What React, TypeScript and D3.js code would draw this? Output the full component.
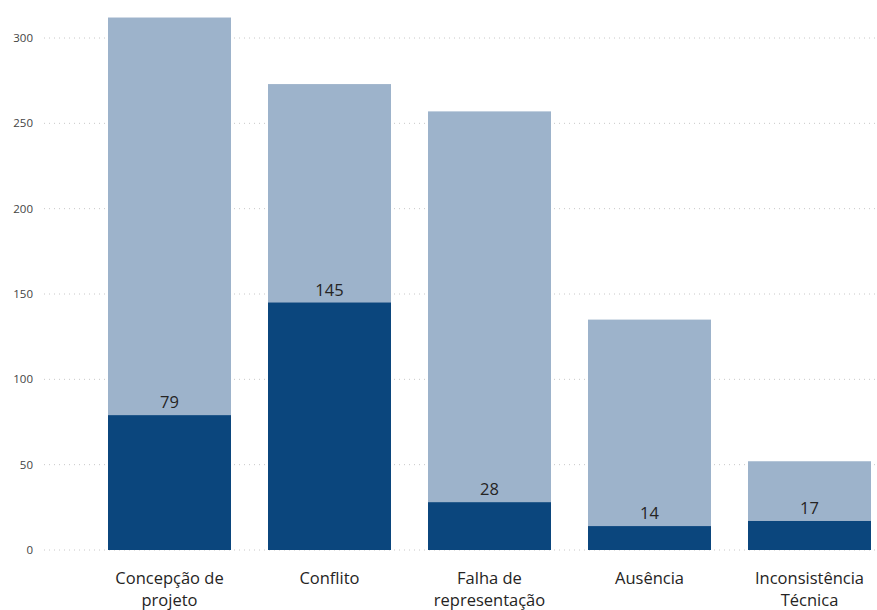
import React from "react";
import * as d3 from "d3";

const categories: string[][] = [
  ["Concepção de", "projeto"],
  ["Conflito"],
  ["Falha de", "representação"],
  ["Ausência"],
  ["Inconsistência", "Técnica"],
];
const totals = [312, 273, 257, 135, 52];
const highlighted = [79, 145, 28, 14, 17];
const yTicks = [0, 50, 100, 150, 200, 250, 300];

const W = 877;
const H = 610;

export default function App() {
  const keys = categories.map((c) => c.join(" "));
  const x = d3
    .scaleBand<string>()
    .domain(keys)
    .range([89.5, 889.5])
    .paddingInner(0.23125)
    .paddingOuter(0.115625);
  const y = d3.scaleLinear().domain([0, 300]).range([550, 38]);
  const font = "'Open Sans', 'Segoe UI', sans-serif";

  return (
    <svg
      width={W}
      height={H}
      style={{ position: "absolute", left: 0, top: 0, background: "#fff" }}
    >
      {yTicks.map((t) => (
        <g key={t}>
          <line
            x1={44}
            x2={W}
            y1={y(t)}
            y2={y(t)}
            stroke="#c8c8c8"
            strokeWidth={1}
            strokeDasharray="1 4"
          />
          <text
            x={33}
            y={y(t)}
            dy="0.35em"
            textAnchor="end"
            fontFamily={font}
            fontSize={11.5}
            fill="#444"
          >
            {t}
          </text>
        </g>
      ))}
      {keys.map((k, i) => (
        <g key={k}>
          <rect
            x={x(k)}
            y={y(totals[i])}
            width={x.bandwidth()}
            height={y(0) - y(totals[i])}
            fill="#9db3cb"
          />
          <rect
            x={x(k)}
            y={y(highlighted[i])}
            width={x.bandwidth()}
            height={y(0) - y(highlighted[i])}
            fill="#0b467d"
          />
          <text
            x={(x(k) as number) + x.bandwidth() / 2}
            y={y(highlighted[i]) - 7}
            textAnchor="middle"
            fontFamily={font}
            fontSize={16.5}
            fill="#252423"
          >
            {highlighted[i]}
          </text>
          {categories[i].map((line, j) => (
            <text
              key={j}
              x={(x(k) as number) + x.bandwidth() / 2}
              y={584 + j * 22}
              textAnchor="middle"
              fontFamily={font}
              fontSize={16.5}
              fill="#252423"
            >
              {line}
            </text>
          ))}
        </g>
      ))}
    </svg>
  );
}
